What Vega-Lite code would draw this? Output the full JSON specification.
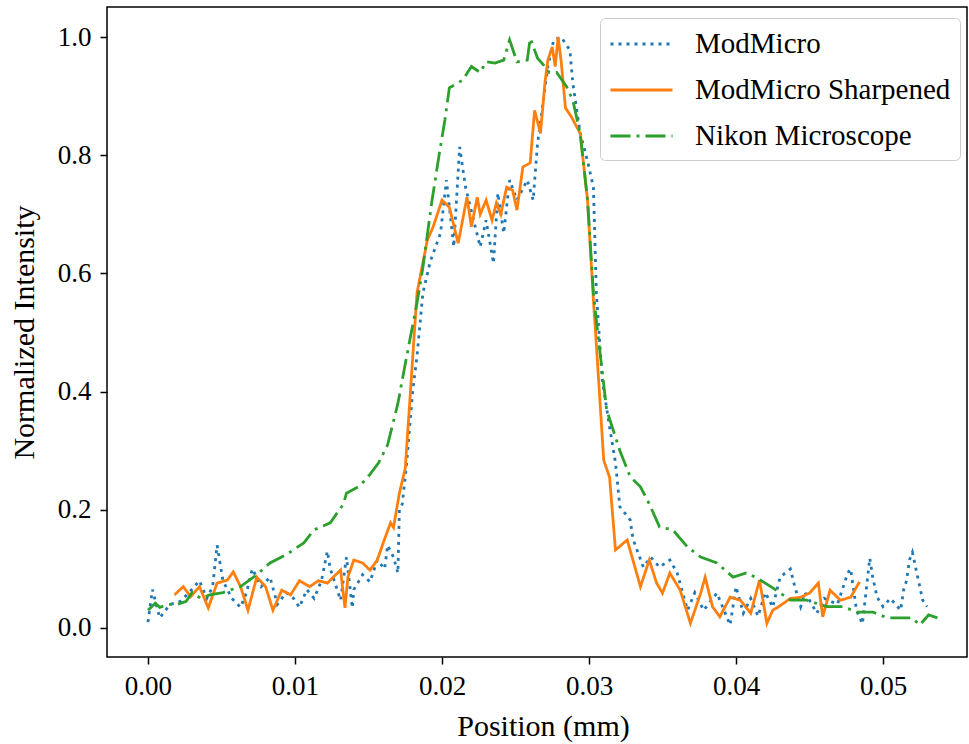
{
  "$schema": "https://vega.github.io/schema/vega-lite/v6.json",
  "width": 860,
  "height": 650,
  "autosize": {"type": "none"},
  "padding": {"left": 107, "top": 7, "right": 2, "bottom": 87},
  "background": "white",
  "config": {"view": {"stroke": "black", "strokeWidth": 1.5}, "font": "Liberation Serif"},
  "datasets": {
    "ModMicro": [{"x":0,"y":0.01},{"x":0.0003,"y":0.065},{"x":0.0008,"y":0.017},{"x":0.0015,"y":0.04},{"x":0.0022,"y":0.045},{"x":0.0028,"y":0.06},{"x":0.0035,"y":0.08},{"x":0.004,"y":0.05},{"x":0.0044,"y":0.07},{"x":0.0047,"y":0.14},{"x":0.0051,"y":0.08},{"x":0.0057,"y":0.05},{"x":0.0063,"y":0.035},{"x":0.0067,"y":0.06},{"x":0.0071,"y":0.10},{"x":0.0077,"y":0.07},{"x":0.0083,"y":0.086},{"x":0.0088,"y":0.04},{"x":0.0094,"y":0.06},{"x":0.0099,"y":0.05},{"x":0.0103,"y":0.035},{"x":0.0108,"y":0.065},{"x":0.0113,"y":0.05},{"x":0.0118,"y":0.08},{"x":0.0122,"y":0.13},{"x":0.0124,"y":0.10},{"x":0.0128,"y":0.07},{"x":0.0131,"y":0.047},{"x":0.0135,"y":0.12},{"x":0.0139,"y":0.034},{"x":0.014,"y":0.065},{"x":0.0146,"y":0.09},{"x":0.0151,"y":0.078},{"x":0.0156,"y":0.115},{"x":0.0161,"y":0.10},{"x":0.0163,"y":0.14},{"x":0.0167,"y":0.12},{"x":0.017,"y":0.093},{"x":0.0171,"y":0.20},{"x":0.0173,"y":0.21},{"x":0.0176,"y":0.28},{"x":0.018,"y":0.40},{"x":0.0183,"y":0.46},{"x":0.0187,"y":0.567},{"x":0.0192,"y":0.62},{"x":0.0199,"y":0.668},{"x":0.0203,"y":0.758},{"x":0.0208,"y":0.645},{"x":0.0212,"y":0.814},{"x":0.0216,"y":0.746},{"x":0.0221,"y":0.695},{"x":0.0226,"y":0.645},{"x":0.023,"y":0.69},{"x":0.0235,"y":0.617},{"x":0.0238,"y":0.736},{"x":0.0242,"y":0.668},{"x":0.0246,"y":0.758},{"x":0.0251,"y":0.724},{"x":0.0258,"y":0.758},{"x":0.0262,"y":0.724},{"x":0.0265,"y":0.82},{"x":0.0269,"y":0.893},{"x":0.0272,"y":0.95},{"x":0.0276,"y":0.995},{"x":0.0281,"y":1.0},{"x":0.0287,"y":0.978},{"x":0.0289,"y":0.922},{"x":0.0294,"y":0.837},{"x":0.0299,"y":0.79},{"x":0.0303,"y":0.746},{"x":0.0305,"y":0.567},{"x":0.0309,"y":0.42},{"x":0.0314,"y":0.34},{"x":0.0318,"y":0.28},{"x":0.0321,"y":0.205},{"x":0.0328,"y":0.183},{"x":0.033,"y":0.15},{"x":0.0337,"y":0.103},{"x":0.0342,"y":0.12},{"x":0.0348,"y":0.103},{"x":0.0355,"y":0.115},{"x":0.036,"y":0.093},{"x":0.0367,"y":0.03},{"x":0.0372,"y":0.06},{"x":0.0378,"y":0.03},{"x":0.0387,"y":0.059},{"x":0.0396,"y":0.005},{"x":0.04,"y":0.07},{"x":0.0405,"y":0.025},{"x":0.041,"y":0.05},{"x":0.0415,"y":0.02},{"x":0.042,"y":0.06},{"x":0.0425,"y":0.035},{"x":0.043,"y":0.086},{"x":0.0437,"y":0.10},{"x":0.044,"y":0.07},{"x":0.0444,"y":0.036},{"x":0.0447,"y":0.06},{"x":0.0455,"y":0.025},{"x":0.046,"y":0.05},{"x":0.0469,"y":0.04},{"x":0.0476,"y":0.093},{"x":0.0478,"y":0.10},{"x":0.0482,"y":0.03},{"x":0.0486,"y":0.007},{"x":0.0491,"y":0.118},{"x":0.0493,"y":0.086},{"x":0.0496,"y":0.052},{"x":0.05,"y":0.036},{"x":0.0505,"y":0.05},{"x":0.0512,"y":0.03},{"x":0.0514,"y":0.064},{"x":0.0516,"y":0.08},{"x":0.0518,"y":0.115},{"x":0.052,"y":0.128},{"x":0.0523,"y":0.093},{"x":0.0527,"y":0.047},{"x":0.053,"y":0.036}],
    "Sharpened": [{"x":0.0018,"y":0.056},{"x":0.0024,"y":0.07},{"x":0.0029,"y":0.053},{"x":0.0035,"y":0.07},{"x":0.0041,"y":0.034},{"x":0.0047,"y":0.076},{"x":0.0054,"y":0.081},{"x":0.0058,"y":0.095},{"x":0.0063,"y":0.07},{"x":0.0068,"y":0.03},{"x":0.0074,"y":0.086},{"x":0.008,"y":0.07},{"x":0.0085,"y":0.03},{"x":0.0091,"y":0.064},{"x":0.0097,"y":0.056},{"x":0.0103,"y":0.08},{"x":0.011,"y":0.07},{"x":0.0116,"y":0.08},{"x":0.0122,"y":0.076},{"x":0.0126,"y":0.086},{"x":0.0131,"y":0.098},{"x":0.0134,"y":0.034},{"x":0.0136,"y":0.086},{"x":0.014,"y":0.115},{"x":0.0146,"y":0.11},{"x":0.0151,"y":0.098},{"x":0.0156,"y":0.115},{"x":0.016,"y":0.144},{"x":0.0165,"y":0.178},{"x":0.0167,"y":0.17},{"x":0.0171,"y":0.228},{"x":0.0175,"y":0.27},{"x":0.0178,"y":0.38},{"x":0.0183,"y":0.567},{"x":0.019,"y":0.656},{"x":0.0194,"y":0.679},{"x":0.02,"y":0.724},{"x":0.0205,"y":0.712},{"x":0.0211,"y":0.651},{"x":0.0217,"y":0.729},{"x":0.022,"y":0.679},{"x":0.0224,"y":0.729},{"x":0.0226,"y":0.70},{"x":0.023,"y":0.724},{"x":0.0234,"y":0.69},{"x":0.0237,"y":0.719},{"x":0.024,"y":0.70},{"x":0.0244,"y":0.746},{"x":0.0248,"y":0.741},{"x":0.0251,"y":0.707},{"x":0.0255,"y":0.78},{"x":0.026,"y":0.787},{"x":0.0263,"y":0.876},{"x":0.0267,"y":0.837},{"x":0.027,"y":0.922},{"x":0.0272,"y":0.961},{"x":0.0275,"y":0.983},{"x":0.0277,"y":0.95},{"x":0.0279,"y":1.0},{"x":0.0281,"y":0.96},{"x":0.0284,"y":0.88},{"x":0.0288,"y":0.865},{"x":0.0294,"y":0.837},{"x":0.0299,"y":0.724},{"x":0.0303,"y":0.555},{"x":0.0305,"y":0.48},{"x":0.031,"y":0.284},{"x":0.0314,"y":0.255},{"x":0.0318,"y":0.132},{"x":0.0326,"y":0.149},{"x":0.0335,"y":0.07},{"x":0.0341,"y":0.115},{"x":0.0346,"y":0.076},{"x":0.035,"y":0.059},{"x":0.0355,"y":0.093},{"x":0.0362,"y":0.064},{"x":0.0369,"y":0.008},{"x":0.0376,"y":0.059},{"x":0.0379,"y":0.086},{"x":0.0384,"y":0.036},{"x":0.0389,"y":0.019},{"x":0.0396,"y":0.052},{"x":0.0403,"y":0.047},{"x":0.041,"y":0.025},{"x":0.0416,"y":0.081},{"x":0.0421,"y":0.008},{"x":0.0425,"y":0.03},{"x":0.0429,"y":0.036},{"x":0.0437,"y":0.05},{"x":0.0444,"y":0.052},{"x":0.045,"y":0.059},{"x":0.0456,"y":0.076},{"x":0.0459,"y":0.019},{"x":0.0464,"y":0.064},{"x":0.0471,"y":0.047},{"x":0.0478,"y":0.052},{"x":0.0484,"y":0.078}],
    "Nikon": [{"x":0,"y":0.03},{"x":0.0005,"y":0.042},{"x":0.0008,"y":0.035},{"x":0.0014,"y":0.04},{"x":0.002,"y":0.04},{"x":0.0026,"y":0.045},{"x":0.003,"y":0.06},{"x":0.0036,"y":0.05},{"x":0.0042,"y":0.056},{"x":0.0051,"y":0.06},{"x":0.0063,"y":0.07},{"x":0.0074,"y":0.09},{"x":0.0083,"y":0.11},{"x":0.0094,"y":0.124},{"x":0.0106,"y":0.144},{"x":0.0113,"y":0.166},{"x":0.0124,"y":0.178},{"x":0.0133,"y":0.21},{"x":0.0135,"y":0.228},{"x":0.0144,"y":0.24},{"x":0.0151,"y":0.26},{"x":0.0157,"y":0.28},{"x":0.0163,"y":0.31},{"x":0.017,"y":0.38},{"x":0.0176,"y":0.46},{"x":0.0183,"y":0.55},{"x":0.0187,"y":0.61},{"x":0.0193,"y":0.72},{"x":0.0198,"y":0.80},{"x":0.0202,"y":0.86},{"x":0.0205,"y":0.914},{"x":0.0214,"y":0.927},{"x":0.022,"y":0.95},{"x":0.0226,"y":0.94},{"x":0.023,"y":0.958},{"x":0.0236,"y":0.956},{"x":0.0242,"y":0.961},{"x":0.0246,"y":0.995},{"x":0.0251,"y":0.958},{"x":0.0258,"y":0.961},{"x":0.026,"y":0.998},{"x":0.0265,"y":0.964},{"x":0.0269,"y":0.953},{"x":0.0273,"y":0.94},{"x":0.0278,"y":0.94},{"x":0.0285,"y":0.915},{"x":0.0289,"y":0.893},{"x":0.0294,"y":0.837},{"x":0.0299,"y":0.724},{"x":0.0303,"y":0.567},{"x":0.0305,"y":0.52},{"x":0.0312,"y":0.369},{"x":0.0321,"y":0.30},{"x":0.0328,"y":0.256},{"x":0.0335,"y":0.239},{"x":0.0341,"y":0.21},{"x":0.0348,"y":0.171},{"x":0.0357,"y":0.166},{"x":0.0367,"y":0.137},{"x":0.0376,"y":0.12},{"x":0.0387,"y":0.11},{"x":0.0398,"y":0.086},{"x":0.0407,"y":0.093},{"x":0.0414,"y":0.085},{"x":0.0425,"y":0.068},{"x":0.0437,"y":0.047},{"x":0.0448,"y":0.047},{"x":0.0462,"y":0.036},{"x":0.0473,"y":0.036},{"x":0.0482,"y":0.027},{"x":0.0493,"y":0.027},{"x":0.0503,"y":0.017},{"x":0.0514,"y":0.017},{"x":0.052,"y":0.017},{"x":0.0525,"y":0.005},{"x":0.0531,"y":0.022},{"x":0.0537,"y":0.017}]
  },
  "encoding": {
    "x": {
      "field": "x", "type": "quantitative",
      "scale": {"domain": [-0.002789, 0.055714], "nice": false, "zero": false},
      "axis": {
        "title": "Position (mm)", "values": [0, 0.01, 0.02, 0.03, 0.04, 0.05], "format": ".2f",
        "grid": false, "domain": false, "tickColor": "black", "tickSize": 7, "tickWidth": 1.5,
        "labelFont": "Liberation Serif", "labelFontSize": 27, "labelColor": "black",
        "labelBaseline": "alphabetic", "labelPadding": 30, "labelFlush": false,
        "titleFont": "Liberation Serif", "titleFontSize": 30, "titleFontWeight": "normal", "titleColor": "black",
        "titleBaseline": "alphabetic", "titleX": 436, "titleY": 78
      }
    },
    "y": {
      "field": "y", "type": "quantitative",
      "scale": {"domain": [-0.0491, 1.0508], "nice": false, "zero": false},
      "axis": {
        "title": "Normalized Intensity", "values": [0, 0.2, 0.4, 0.6, 0.8, 1.0], "format": ".1f",
        "grid": false, "domain": false, "tickColor": "black", "tickSize": 7, "tickWidth": 1.5,
        "labelFont": "Liberation Serif", "labelFontSize": 27, "labelColor": "black",
        "labelPadding": 9, "labelFlush": false, "labelBaseline": "middle",
        "titleFont": "Liberation Serif", "titleFontSize": 30, "titleFontWeight": "normal", "titleColor": "black",
        "titleBaseline": "alphabetic", "titleAngle": -90, "titleAlign": "center", "titleX": -74, "titleY": 325
      }
    },
    "color": {
      "field": "series", "type": "nominal",
      "scale": {"domain": ["ModMicro", "ModMicro Sharpened", "Nikon Microscope"], "range": ["#1f77b4", "#ff7f0e", "#2ca02c"]},
      "legend": {
        "title": null, "orient": "none", "legendX": 493, "legendY": 11,
        "fillColor": "white", "strokeColor": "#cccccc", "cornerRadius": 5, "padding": 9,
        "symbolType": "M-1,0H3", "symbolSize": 961, "symbolStrokeWidth": 2.8, "symbolFillColor": "transparent", "labelOffset": 52,
        "labelFont": "Liberation Serif", "labelFontSize": 29, "labelColor": "black", "rowPadding": 14, "labelLimit": 400
      }
    },
    "strokeDash": {
      "field": "series", "type": "nominal",
      "scale": {"domain": ["ModMicro", "ModMicro Sharpened", "Nikon Microscope"], "range": [[3, 5], [1, 0], [20, 6, 3, 6]]},
      "legend": {
        "title": null, "orient": "none", "legendX": 493, "legendY": 11,
        "fillColor": "white", "strokeColor": "#cccccc", "cornerRadius": 5, "padding": 9,
        "symbolType": "M-1,0H3", "symbolSize": 961, "symbolStrokeWidth": 2.8, "symbolFillColor": "transparent", "labelOffset": 52,
        "labelFont": "Liberation Serif", "labelFontSize": 29, "labelColor": "black", "rowPadding": 14, "labelLimit": 400
      }
    }
  },
  "layer": [
    {
      "data": {"name": "ModMicro"},
      "mark": {"type": "line", "strokeWidth": 2.8, "clip": true},
      "encoding": {"color": {"datum": "ModMicro"}, "strokeDash": {"datum": "ModMicro"}}
    },
    {
      "data": {"name": "Sharpened"},
      "mark": {"type": "line", "strokeWidth": 2.8, "clip": true},
      "encoding": {"color": {"datum": "ModMicro Sharpened"}, "strokeDash": {"datum": "ModMicro Sharpened"}}
    },
    {
      "data": {"name": "Nikon"},
      "mark": {"type": "line", "strokeWidth": 2.8, "clip": true},
      "encoding": {"color": {"datum": "Nikon Microscope"}, "strokeDash": {"datum": "Nikon Microscope"}}
    }
  ]
}
